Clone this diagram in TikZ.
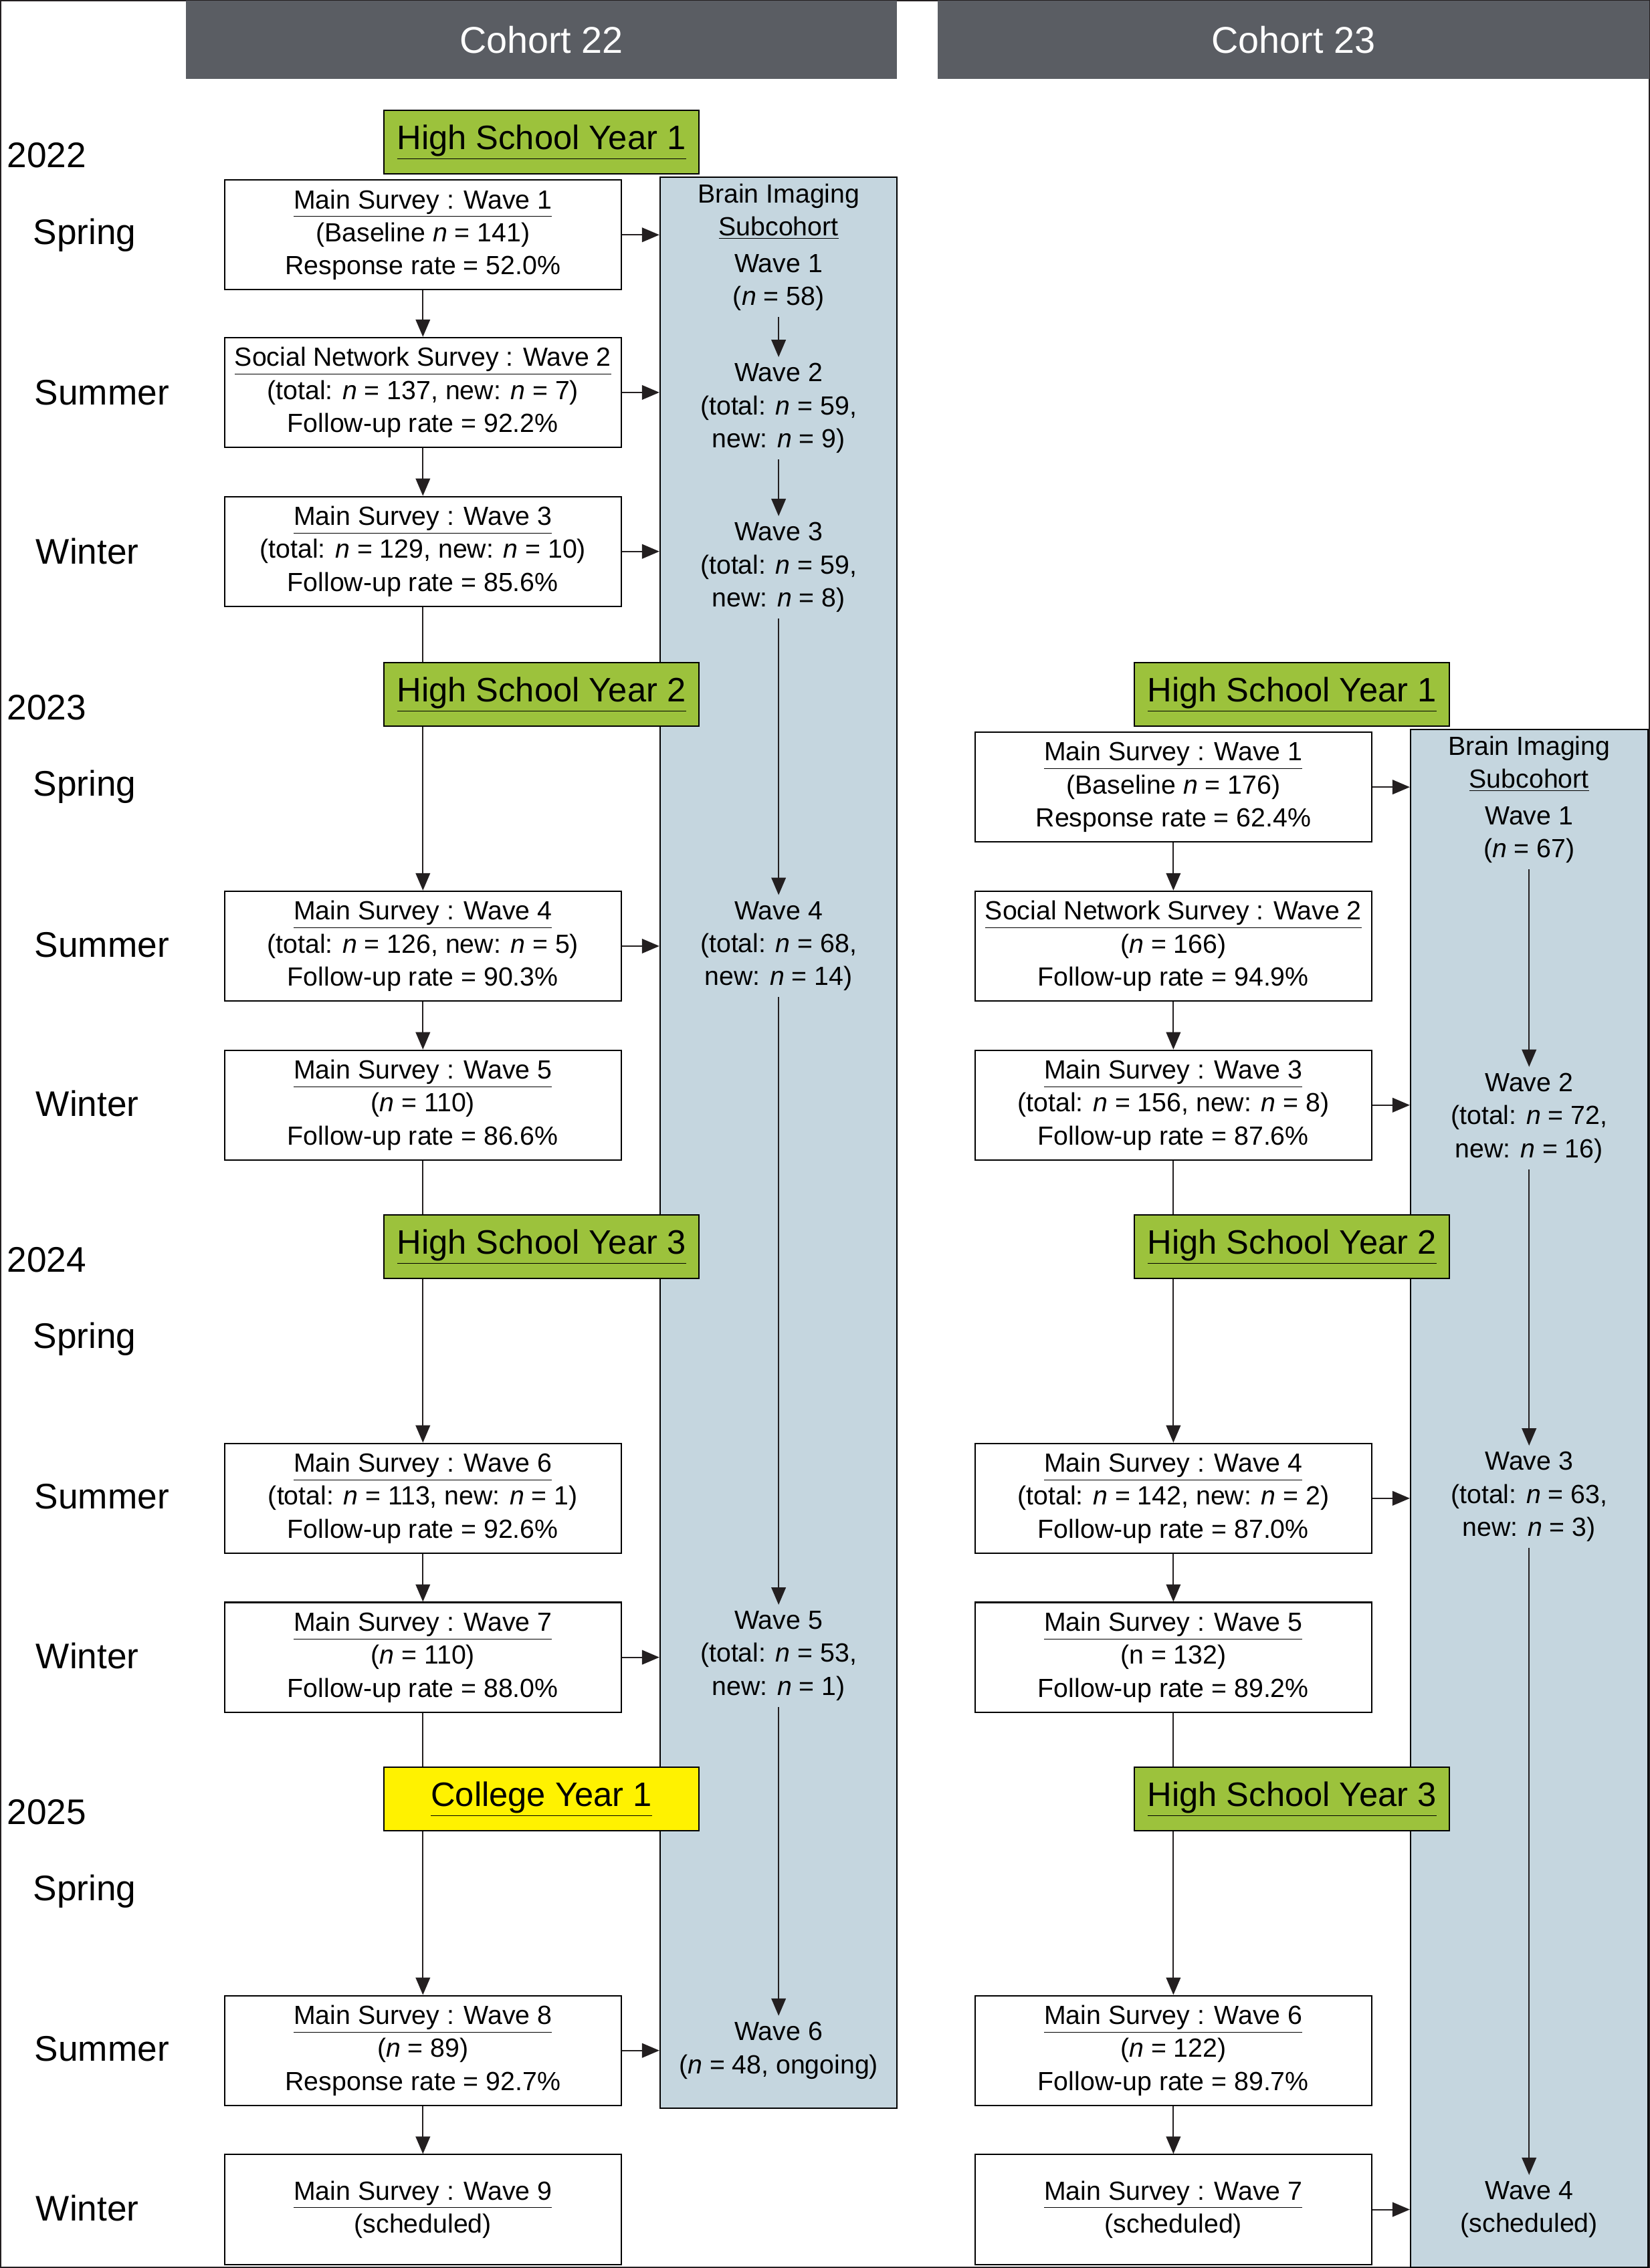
\documentclass[tikz,border=0pt]{standalone}
\usepackage{fontspec}
\setmainfont{Liberation Sans}
\usetikzlibrary{arrows.meta,positioning}
\definecolor{hdr}{HTML}{5A5D63}
\definecolor{brain}{HTML}{C5D6DF}
\definecolor{grade}{HTML}{9CC23C}
\definecolor{college}{HTML}{FFF200}
\definecolor{ink}{HTML}{231F20}
\begin{document}
\begin{tikzpicture}[
  x=0.03cm, y=-0.03cm,
  >={Triangle[length=3.6mm,width=3mm]},
  every path/.style={draw=ink, line width=0.8pt},
  txt/.style   = {font=\fontsize{15.5}{19.5}\selectfont, align=center, text=black},
  box/.style   = {txt, draw=black, fill=white, minimum width=8.22cm, minimum height=2.28cm, inner sep=0pt},
  grade/.style = {txt, draw=black, fill=grade, minimum width=6.54cm, minimum height=1.32cm,
                  font=\fontsize{20}{24}\selectfont},
  column/.style= {draw=black, fill=brain, minimum width=4.92cm, inner sep=0pt},
  head/.style  = {fill=hdr, text=white, minimum width=14.76cm, minimum height=1.62cm,
                  font=\fontsize{22}{26}\selectfont},
  year/.style  = {txt, anchor=west, font=\fontsize{21}{25}\selectfont},
  season/.style= {txt, font=\fontsize{21}{25}\selectfont},
  wave/.style  = {txt}
]
\useasboundingbox (0,0) rectangle (1140,1568);

% ---- headers ----
\node[head] (hA) at (374,27) {Cohort 22};
\node[head] (hB) at (894,27) {Cohort 23};

% ---- years and seasons ----
\node[year] (y22) at (0,107) {2022};
\node[year] (y23) at (0,489) {2023};
\node[year] (y24) at (0,871) {2024};
\node[year] (y25) at (0,1253) {2025};
\foreach \yy [count=\i] in {0,382,764,1146}{
  \node[season] (sp\i) at (58,162+\yy) {Spring};
  \node[season] (su\i) at (70,271+\yy) {Summer};
  \node[season] (wi\i) at (60,381+\yy) {Winter};
}

% ---- brain imaging columns ----
\node[column, minimum height=40.08cm] (colA) at (538,790) {};
\node[column, minimum height=31.92cm] (colB) at (1057,1036) {};

% ---- cohort 22 ----
\node[box] (a1) at (292,162) {\underline{Main Survey : Wave 1}\\(Baseline \textit{n} = 141)\\Response rate = 52.0\%};
\node[box] (a2) at (292,271) {\underline{Social Network Survey : Wave 2}\\(total: \textit{n} = 137, new: \textit{n} = 7)\\Follow-up rate = 92.2\%};
\node[box] (a3) at (292,381) {\underline{Main Survey : Wave 3}\\(total: \textit{n} = 129, new: \textit{n} = 10)\\Follow-up rate = 85.6\%};
\node[box] (a4) at (292,654) {\underline{Main Survey : Wave 4}\\(total: \textit{n} = 126, new: \textit{n} = 5)\\Follow-up rate = 90.3\%};
\node[box] (a5) at (292,764) {\underline{Main Survey : Wave 5}\\(\textit{n} = 110)\\Follow-up rate = 86.6\%};
\node[box] (a6) at (292,1036) {\underline{Main Survey : Wave 6}\\(total: \textit{n} = 113, new: \textit{n} = 1)\\Follow-up rate = 92.6\%};
\node[box] (a7) at (292,1146) {\underline{Main Survey : Wave 7}\\(\textit{n} = 110)\\Follow-up rate = 88.0\%};
\node[box] (a8) at (292,1418) {\underline{Main Survey : Wave 8}\\(\textit{n} = 89)\\Response rate = 92.7\%};
\node[box] (a9) at (292,1528) {\underline{Main Survey : Wave 9}\\(scheduled)};

\node[wave] (bA0) at (538,146) {Brain Imaging\\\underline{Subcohort}};
\node[wave] (bA1) at (538,195) {Wave 1\\(\textit{n} = 58)};
\node[wave] (bA2) at (538,282) {Wave 2\\(total: \textit{n} = 59,\\new: \textit{n} = 9)};
\node[wave] (bA3) at (538,392) {Wave 3\\(total: \textit{n} = 59,\\new: \textit{n} = 8)};
\node[wave] (bA4) at (538,654) {Wave 4\\(total: \textit{n} = 68,\\new: \textit{n} = 14)};
\node[wave] (bA5) at (538,1145) {Wave 5\\(total: \textit{n} = 53,\\new: \textit{n} = 1)};
\node[wave] (bA6) at (538,1418) {Wave 6\\(\textit{n} = 48, ongoing)};

\foreach \u/\v in {a1/a2,a2/a3,a3/a4,a4/a5,a5/a6,a6/a7,a7/a8,a8/a9}
  \draw[->] (\u) -- (\v);
\foreach \u/\v in {bA1/bA2,bA2/bA3,bA3/bA4,bA4/bA5,bA5/bA6}
  \draw[->] (\u) -- (\v);
\foreach \u in {a1,a2,a3,a4,a7,a8}
  \draw[->] (\u.east) -- (\u.east -| colA.west);

\node[grade] (gA1) at (374,98) {\underline{High School Year 1}};
\node[grade] (gA2) at (374,480) {\underline{High School Year 2}};
\node[grade] (gA3) at (374,862) {\underline{High School Year 3}};
\node[grade, fill=college] (gA4) at (374,1244) {\underline{College Year 1}};

% ---- cohort 23 ----
\node[box] (c1) at (811,544) {\underline{Main Survey : Wave 1}\\(Baseline \textit{n} = 176)\\Response rate = 62.4\%};
\node[box] (c2) at (811,654) {\underline{Social Network Survey : Wave 2}\\(\textit{n} = 166)\\Follow-up rate = 94.9\%};
\node[box] (c3) at (811,764) {\underline{Main Survey : Wave 3}\\(total: \textit{n} = 156, new: \textit{n} = 8)\\Follow-up rate = 87.6\%};
\node[box] (c4) at (811,1036) {\underline{Main Survey : Wave 4}\\(total: \textit{n} = 142, new: \textit{n} = 2)\\Follow-up rate = 87.0\%};
\node[box] (c5) at (811,1146) {\underline{Main Survey : Wave 5}\\(n = 132)\\Follow-up rate = 89.2\%};
\node[box] (c6) at (811,1418) {\underline{Main Survey : Wave 6}\\(\textit{n} = 122)\\Follow-up rate = 89.7\%};
\node[box] (c7) at (811,1528) {\underline{Main Survey : Wave 7}\\(scheduled)};

\node[wave] (bB0) at (1057,528) {Brain Imaging\\\underline{Subcohort}};
\node[wave] (bB1) at (1057,577) {Wave 1\\(\textit{n} = 67)};
\node[wave] (bB2) at (1057,773) {Wave 2\\(total: \textit{n} = 72,\\new: \textit{n} = 16)};
\node[wave] (bB3) at (1057,1035) {Wave 3\\(total: \textit{n} = 63,\\new: \textit{n} = 3)};
\node[wave] (bB4) at (1057,1528) {Wave 4\\(scheduled)};

\foreach \u/\v in {c1/c2,c2/c3,c3/c4,c4/c5,c5/c6,c6/c7}
  \draw[->] (\u) -- (\v);
\foreach \u/\v in {bB1/bB2,bB2/bB3,bB3/bB4}
  \draw[->] (\u) -- (\v);
\foreach \u in {c1,c3,c4,c7}
  \draw[->] (\u.east) -- (\u.east -| colB.west);

\node[grade] (gB1) at (893,480) {\underline{High School Year 1}};
\node[grade] (gB2) at (893,862) {\underline{High School Year 2}};
\node[grade] (gB3) at (893,1244) {\underline{High School Year 3}};
\end{tikzpicture}
\end{document}
